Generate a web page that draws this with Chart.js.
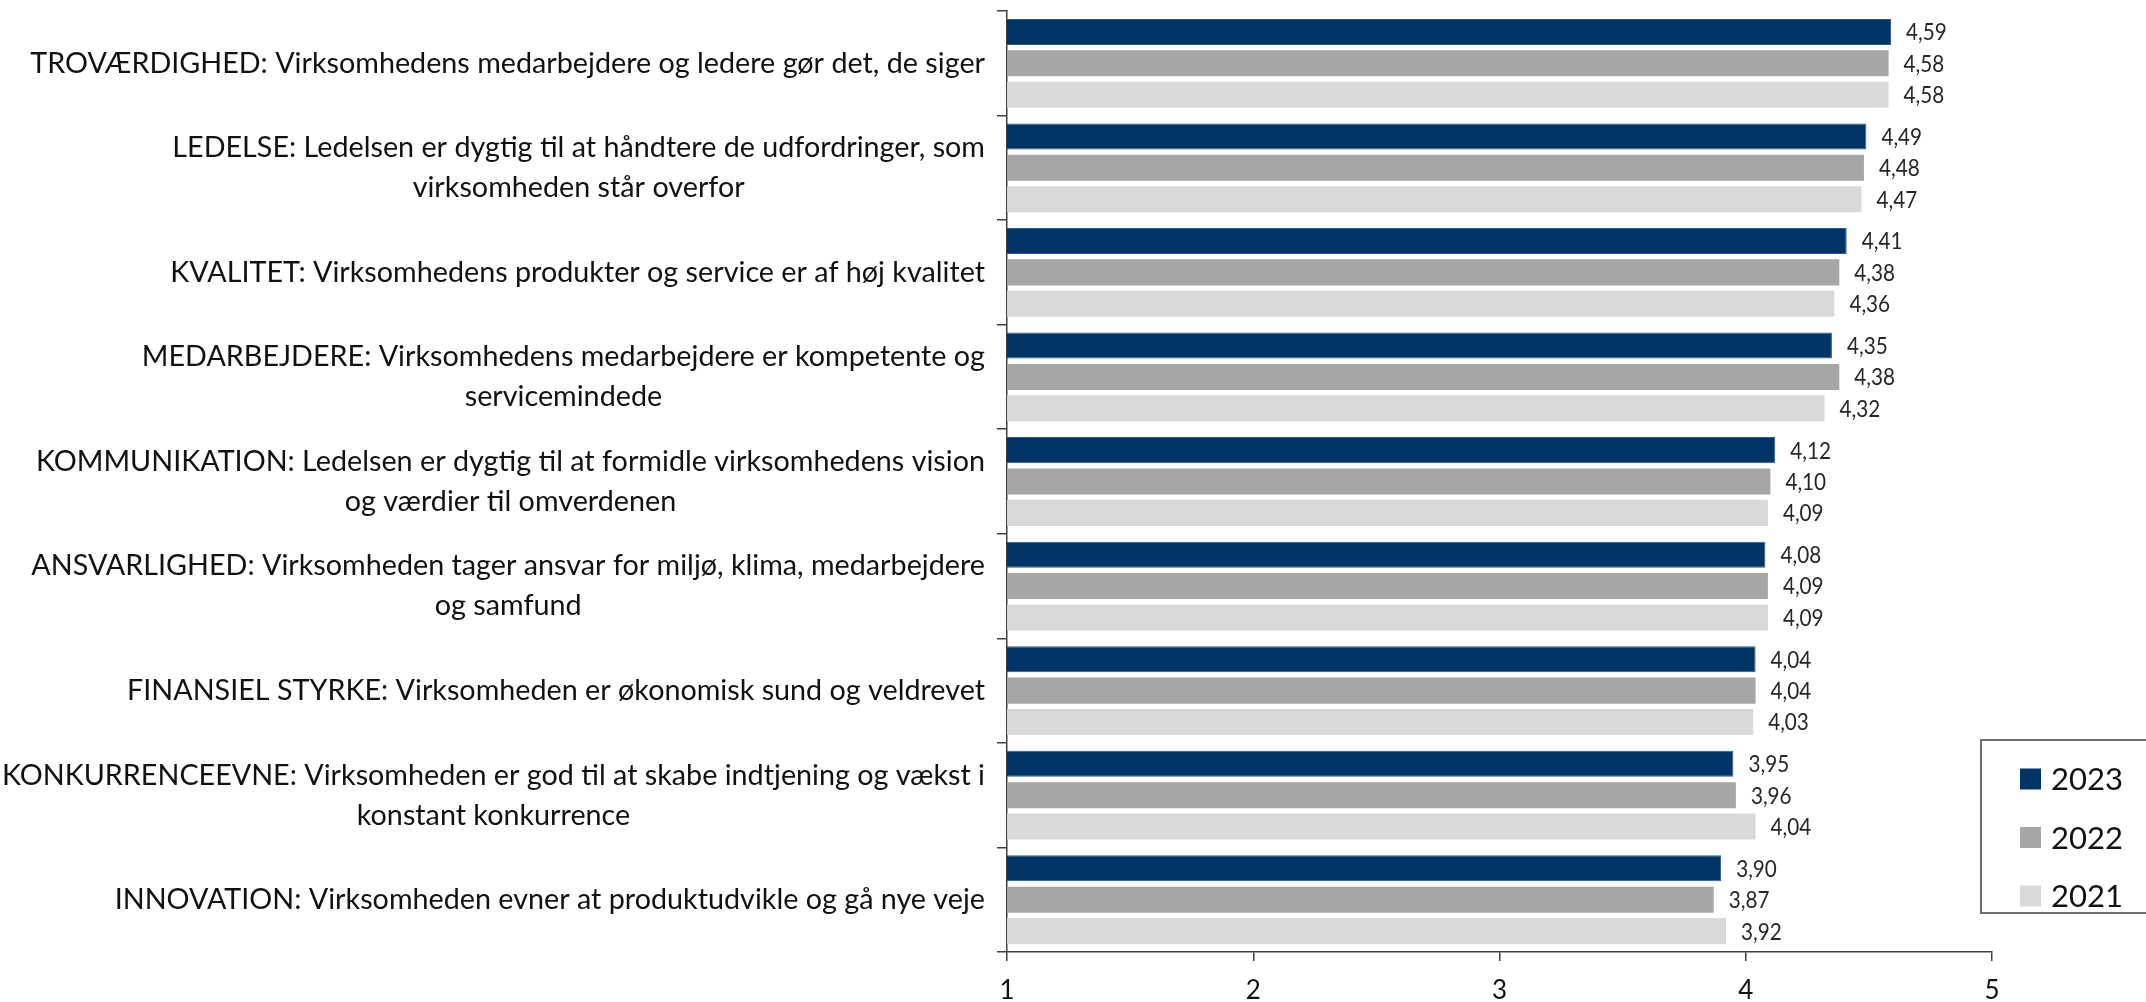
<!DOCTYPE html>
<html>
<head>
<meta charset="utf-8">
<script src="https://cdn.jsdelivr.net/npm/chart.js@4.4.1/dist/chart.umd.min.js"></script>
<style>
  html, body { margin: 0; padding: 0; background: #fff; }
</style>
</head>
<body>
<canvas id="chart" width="2146" height="1002"></canvas>
<script>
// Kategorier (flere linjer = array)
const categories = [
    ['TROVÆRDIGHED: Virksomhedens medarbejdere og ledere gør det, de siger'],
    ['LEDELSE: Ledelsen er dygtig til at håndtere de udfordringer, som', 'virksomheden står overfor'],
    ['KVALITET: Virksomhedens produkter og service er af høj kvalitet'],
    ['MEDARBEJDERE: Virksomhedens medarbejdere er kompetente og', 'servicemindede'],
    ['KOMMUNIKATION: Ledelsen er dygtig til at formidle virksomhedens vision', 'og værdier til omverdenen'],
    ['ANSVARLIGHED: Virksomheden tager ansvar for miljø, klima, medarbejdere', 'og samfund'],
    ['FINANSIEL STYRKE: Virksomheden er økonomisk sund og veldrevet'],
    ['KONKURRENCEEVNE: Virksomheden er god til at skabe indtjening og vækst i', 'konstant konkurrence'],
    ['INNOVATION: Virksomheden evner at produktudvikle og gå nye veje']
];

const years = ['2023', '2022', '2021'];
const values2023 = [4.59, 4.49, 4.41, 4.35, 4.12, 4.08, 4.04, 3.95, 3.90];
const values2022 = [4.58, 4.48, 4.38, 4.38, 4.10, 4.09, 4.04, 3.96, 3.87];
const values2021 = [4.58, 4.47, 4.36, 4.32, 4.09, 4.09, 4.03, 4.04, 3.92];
const xTicks = [1, 2, 3, 4, 5];

const colors = ['#003466', '#a6a6a6', '#d9d9d9'];
const FONT = 'Lato, "Open Sans", sans-serif';

// tekst lidt sammenpresset, så den ligner Calibri
function narrowText(ctx, text, x, y, sx) {
    ctx.save();
    ctx.translate(x, y);
    ctx.scale(sx, 1);
    ctx.fillText(text, 0, 0);
    ctx.restore();
}

// Kategoritekster til venstre (centreret blok, højrestillet mod aksen)
const categoryLabels = {
    id: 'categoryLabels',
    afterDraw(chart) {
        const ctx = chart.ctx;
        const yScale = chart.scales.y;
        const right = chart.chartArea.left - 22;
        const lineH = 40;
        ctx.save();
        ctx.font = '29px ' + FONT;
        ctx.fillStyle = '#111';
        ctx.textBaseline = 'middle';
        ctx.textAlign = 'center';
        // bredeste linje (KONKURRENCEEVNE) skal lige passe ind til venstre kant
        const sx = Math.min(1,
            980 / ctx.measureText(categories[0][0]).width,
            983 / ctx.measureText(categories[7][0]).width);
        categories.forEach(function (lines, i) {
            const yc = yScale.getPixelForValue(i);
            const maxW = sx * Math.max.apply(null, lines.map(function (l) { return ctx.measureText(l).width; }));
            const cx = right - maxW / 2;
            const y0 = yc - (lines.length - 1) * lineH / 2;
            lines.forEach(function (l, k) {
                narrowText(ctx, l, cx, y0 + k * lineH, sx);
            });
        });
        ctx.restore();
    }
};

// Værdier ved enden af søjlerne
const valueLabels = {
    id: 'valueLabels',
    afterDatasetsDraw(chart) {
        const ctx = chart.ctx;
        ctx.save();
        ctx.font = '23px ' + FONT;
        ctx.fillStyle = '#262626';
        ctx.textBaseline = 'middle';
        ctx.textAlign = 'left';
        chart.data.datasets.forEach(function (ds, di) {
            chart.getDatasetMeta(di).data.forEach(function (bar, i) {
                narrowText(ctx, ds.data[i].toFixed(2).replace('.', ','), bar.x + 15, bar.y + 1, 0.9);
            });
        });
        ctx.restore();
    }
};

// Forklaring med ramme nederst til højre
const boxLegend = {
    id: 'boxLegend',
    afterDraw(chart) {
        const ctx = chart.ctx;
        const x = chart.chartArea.right - 11;
        const y = 740;
        ctx.save();
        ctx.strokeStyle = '#6e6e6e';
        ctx.lineWidth = 2;
        ctx.strokeRect(x, y, 220, 173);
        ctx.font = '31px ' + FONT;
        ctx.textBaseline = 'middle';
        ctx.textAlign = 'left';
        chart.data.datasets.forEach(function (ds, i) {
            const cy = y + 39 + i * 58.5;
            ctx.fillStyle = ds.backgroundColor;
            ctx.fillRect(x + 39, cy - 10.5, 21, 21);
            ctx.fillStyle = '#111';
            ctx.fillText(ds.label, x + 70, cy + 1);
        });
        ctx.restore();
    }
};

new Chart(document.getElementById('chart'), {
    type: 'bar',
    data: {
        labels: categories.map(function (c) { return c.join(' '); }),
        datasets: [
            { label: years[0], data: values2023, backgroundColor: colors[0], borderColor: '#2f5a8a', borderWidth: 1 },
            { label: years[1], data: values2022, backgroundColor: colors[1], borderWidth: 0 },
            { label: years[2], data: values2021, backgroundColor: colors[2], borderWidth: 0 }
        ]
    },
    options: {
        indexAxis: 'y',
        responsive: false,
        animation: false,
        devicePixelRatio: 1,
        categoryPercentage: 0.9,
        barPercentage: 0.83,
        layout: { padding: { top: 11, right: 154, left: 0, bottom: 0 } },
        plugins: {
            legend: { display: false },
            tooltip: { enabled: false }
        },
        scales: {
            x: {
                min: 1,
                max: 5,
                afterBuildTicks: function (scale) {
                    scale.ticks = xTicks.map(function (v) { return { value: v }; });
                },
                afterFit: function (scale) { scale.height = 50; },
                grid: { drawOnChartArea: false, drawTicks: true, tickLength: 9, color: '#404040', lineWidth: 1.5 },
                border: { display: true, color: '#404040', width: 1.5 },
                ticks: { font: { size: 26, family: FONT }, color: '#111', padding: 14 }
            },
            y: {
                afterFit: function (scale) { scale.width = 1007; },
                grid: { offset: true, drawOnChartArea: false, drawTicks: true, tickLength: 10, color: '#404040', lineWidth: 1.5 },
                border: { display: true, color: '#404040', width: 1.5 },
                ticks: { display: false }
            }
        }
    },
    plugins: [categoryLabels, valueLabels, boxLegend]
});
</script>
</body>
</html>
